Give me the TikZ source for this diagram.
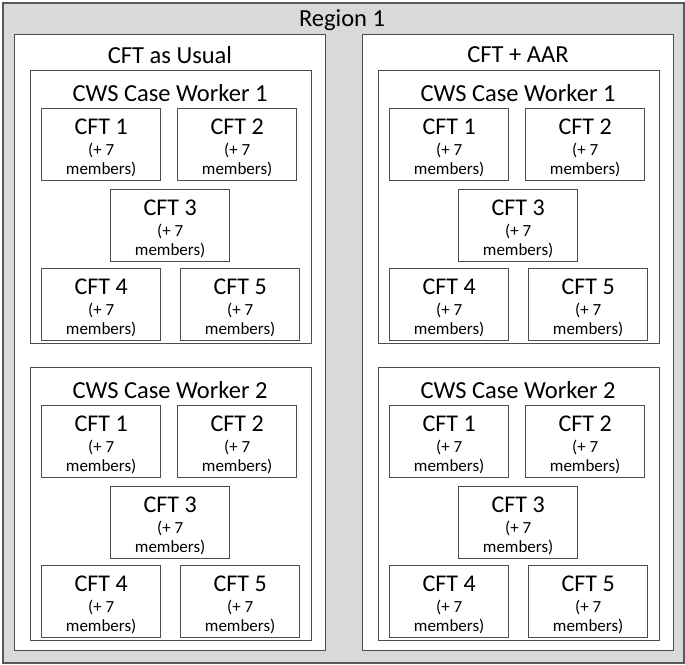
\documentclass[tikz,border=0pt]{standalone}
\usepackage{fontspec}
\setmainfont{Carlito}
\definecolor{regiongray}{HTML}{D9D9D9}
\definecolor{edgegray}{HTML}{4D4D4D}
\definecolor{outergray}{HTML}{595959}
\tikzset{
  regionbox/.style={draw=outergray, line width=2pt, fill=regiongray, inner sep=0pt},
  colbox/.style={draw=edgegray, line width=1.3pt, fill=white, inner sep=0pt,
    minimum width=311pt, minimum height=616pt},
  workerbox/.style={draw=edgegray, line width=1.3pt, fill=white, inner sep=0pt,
    minimum width=281pt, minimum height=273pt},
  cftbox/.style={draw=edgegray, line width=1.3pt, fill=white, inner sep=0pt,
    minimum width=119pt, minimum height=72pt, align=center,
    font=\fontsize{17}{19}\selectfont},
  titletext/.style={font=\fontsize{24.5}{28}\selectfont, inner sep=0pt}
}
\begin{document}
\begin{tikzpicture}[x=1pt,y=-1pt]
\useasboundingbox (0,0) rectangle (685,664);
\node[regionbox, anchor=north west, minimum width=681pt, minimum height=660pt] (region) at (2,2) {};
\node[titletext] (regiontitle) at (342,20) {Region 1};
% two study arms, each with two case workers
\foreach \cx/\cname/\ctitle in {14/usual/CFT as Usual, 362/aar/CFT + AAR}
{
  \node[colbox, anchor=north west] (col-\cname) at (\cx,34) {};
  \node[titletext] (coltitle-\cname) at (\cx+156,55) {\ctitle};
  \foreach \wy/\w in {70/1, 367/2}
  {
    \node[workerbox, anchor=north west] (cw-\cname-\w) at (\cx+16,\wy) {};
    \node[titletext] (cwtitle-\cname-\w) at (\cx+156,\wy+23) {CWS Case Worker \w};
    \foreach \k/\bx/\by in {1/11/38, 2/147/38, 3/80/119, 4/11/198, 5/150/198}
      \node[cftbox, anchor=north west] (cft-\cname-\w-\k) at (\cx+16+\bx,\wy+\by)
        {\rule{0pt}{22pt}{\fontsize{24}{26}\selectfont CFT \k}\\[2pt](+ 7\\members)};
  }
}
\end{tikzpicture}
\end{document}
